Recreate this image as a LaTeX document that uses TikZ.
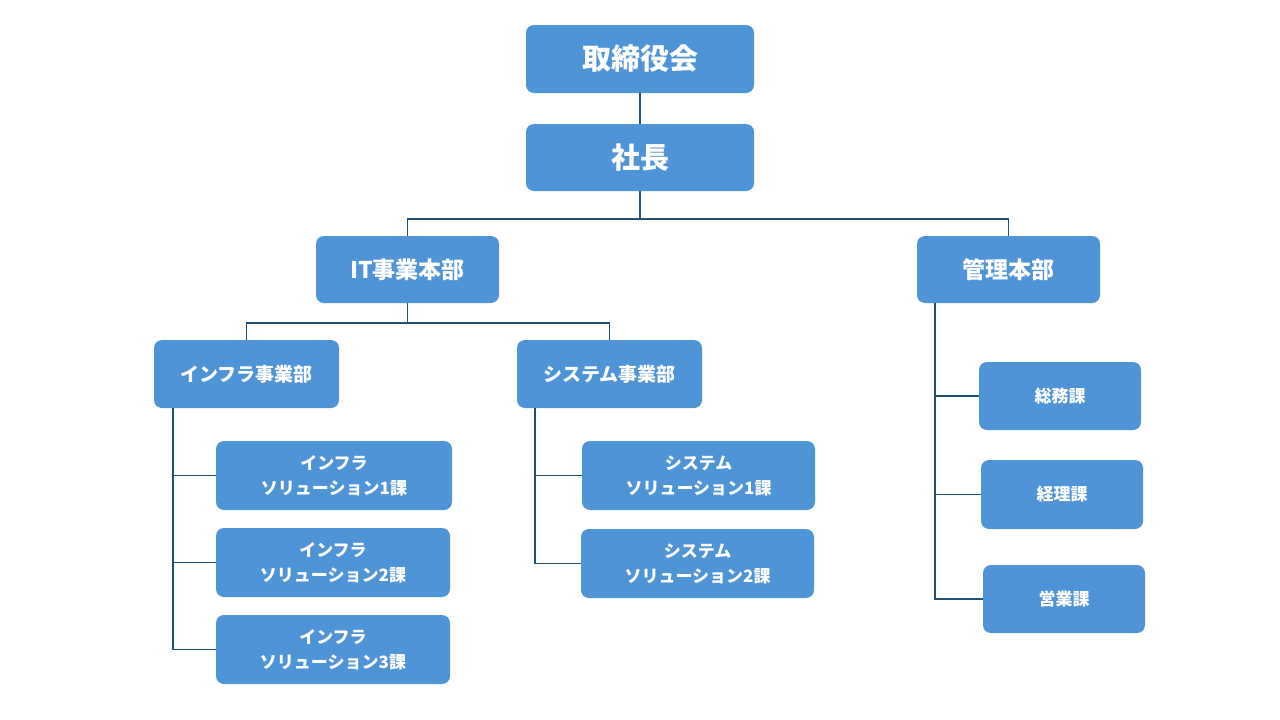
\documentclass[tikz,border=0pt]{standalone}
\usepackage{fontspec}
\setmainfont{Noto Sans CJK JP}
\definecolor{boxc}{HTML}{5094D8}
\definecolor{linec}{HTML}{1F5078}
\begin{document}
\begin{tikzpicture}[x=1pt,y=-1pt,
  box/.style={fill=boxc,rounded corners=8pt,text=white,font=\bfseries,align=center,inner sep=0pt},
  conn/.style={draw=linec,line width=1.6pt}]
\useasboundingbox (0,0) rectangle (1280,720);
\tikzset{bx/.style n args={4}{box,minimum width=#3-#1,minimum height=#4-#2}}
\node[box,minimum width=228,minimum height=68,font=\fontsize{29}{32}\selectfont\bfseries] (board) at (640,59) {取締役会};
\node[box,minimum width=228,minimum height=67,font=\fontsize{29}{32}\selectfont\bfseries] (ceo) at (640,157.5) {社長};
\node[box,minimum width=183,minimum height=67,font=\fontsize{23}{26}\selectfont\bfseries] (it) at (407.5,269.5) {IT事業本部};
\node[box,minimum width=183,minimum height=67,font=\fontsize{23}{26}\selectfont\bfseries] (kanri) at (1008.5,269.5) {管理本部};
\node[box,minimum width=185,minimum height=68,font=\fontsize{19}{22}\selectfont\bfseries] (infra) at (246.5,374) {インフラ事業部};
\node[box,minimum width=185,minimum height=68,font=\fontsize{19}{22}\selectfont\bfseries] (sys) at (609.5,374) {システム事業部};
\tikzset{small/.style={box,minimum height=69,font=\fontsize{17}{25}\selectfont\bfseries}}
\node[small,minimum width=236] (i1) at (334,475.5) {インフラ\\ソリューション1課};
\node[small,minimum width=234] (i2) at (333,562.5) {インフラ\\ソリューション2課};
\node[small,minimum width=234] (i3) at (333,649.5) {インフラ\\ソリューション3課};
\node[small,minimum width=233] (s1) at (698.5,475.5) {システム\\ソリューション1課};
\node[small,minimum width=233] (s2) at (697.5,563.5) {システム\\ソリューション2課};
\node[small,minimum width=162,minimum height=68] (k1) at (1060,396) {総務課};
\node[small,minimum width=162] (k2) at (1062,494.5) {経理課};
\node[small,minimum width=162,minimum height=68] (k3) at (1064,599) {営業課};
\draw[conn] (board.south) -- (ceo.north);
\draw[conn] (ceo.south) -- ++(0,28) coordinate (bus1);
\draw[conn] (it.north) |- (bus1) -| (kanri.north);
\draw[conn] (it.south) -- ++(0,20) coordinate (bus2);
\draw[conn] (infra.north) |- (bus2) -| (sys.north);
\draw[conn] ([xshift=19pt]infra.south west) |- (i3.west);
\draw[conn] ([xshift=19pt]infra.south west) |- (i1.west);
\draw[conn] ([xshift=19pt]infra.south west) |- (i2.west);
\draw[conn] ([xshift=18pt]sys.south west) |- (s2.west);
\draw[conn] ([xshift=18pt]sys.south west) |- (s1.west);
\draw[conn] ([xshift=18pt]kanri.south west) |- (k3.west);
\draw[conn] ([xshift=18pt]kanri.south west) |- (k1.west);
\draw[conn] ([xshift=18pt]kanri.south west) |- (k2.west);
\end{tikzpicture}
\end{document}
